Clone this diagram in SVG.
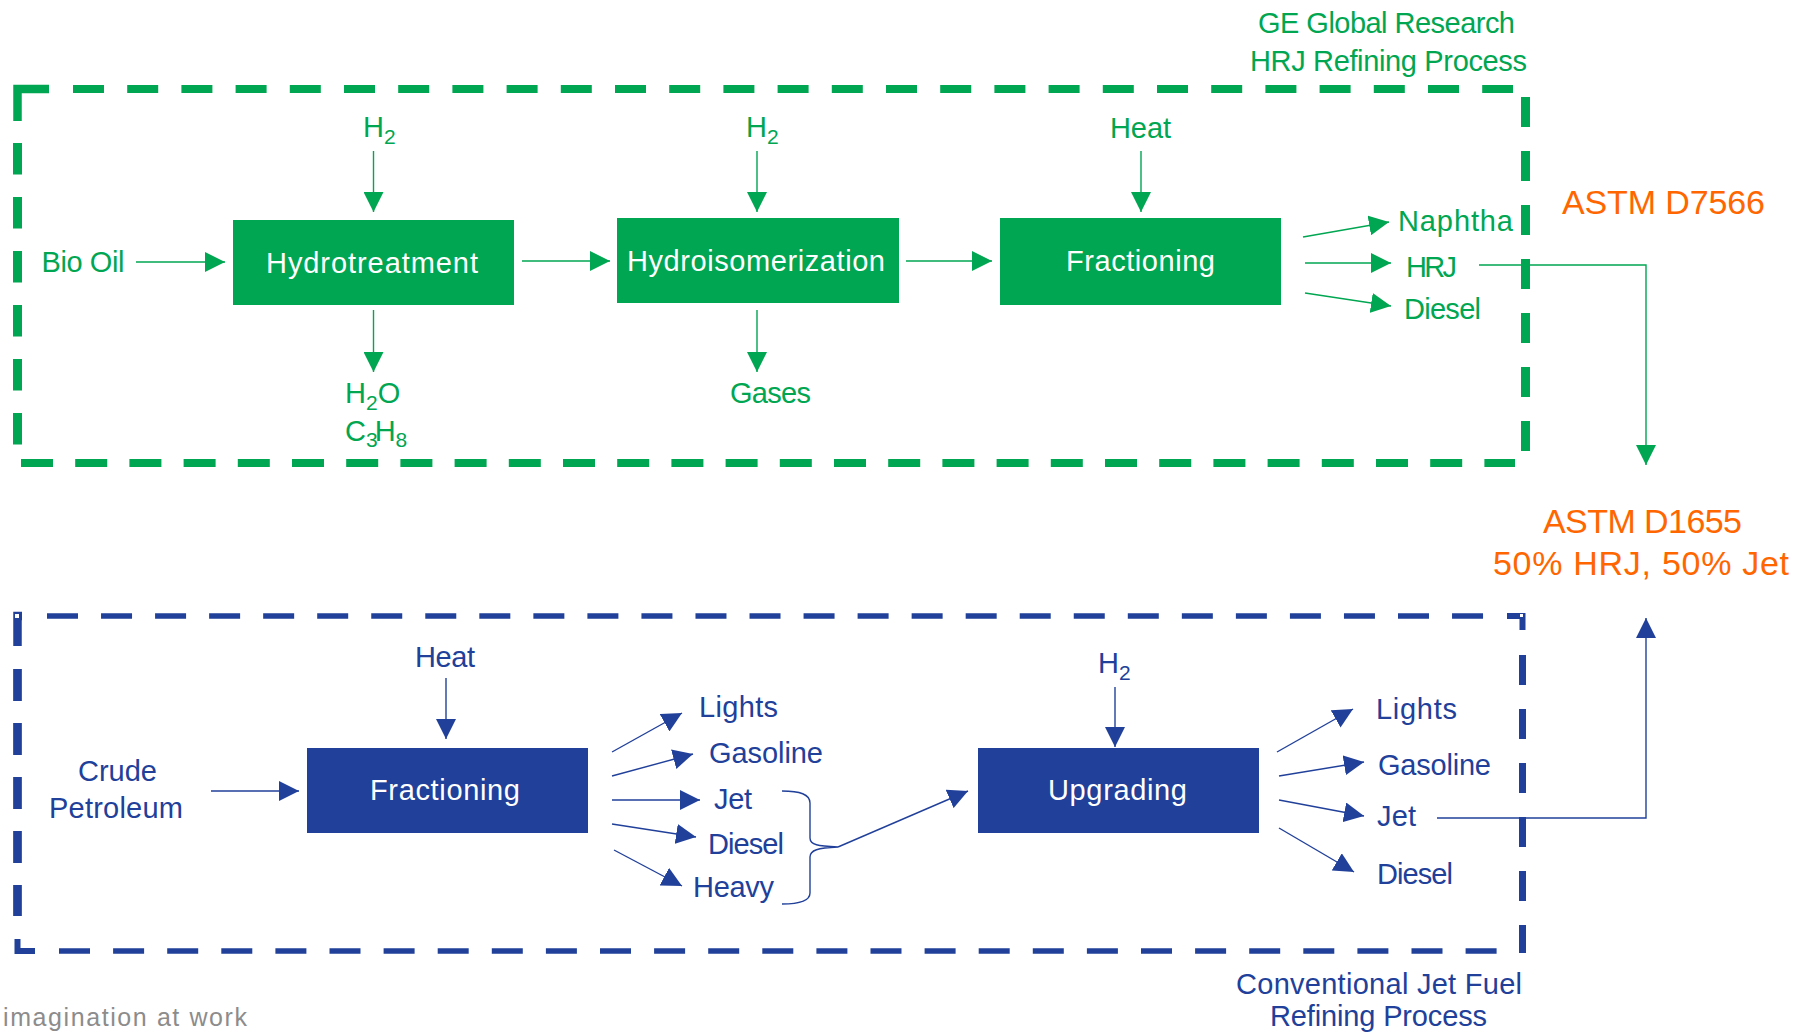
<svg xmlns="http://www.w3.org/2000/svg" width="1809" height="1034" viewBox="0 0 1809 1034">
<style>
text{font-family:"Liberation Sans",Arial,sans-serif;font-size:29px}
.g{fill:#00A651}
.b{fill:#21409A}
.o{fill:#FF6600;font-size:34px}
.w{fill:#fff}
.cg{stroke:#00A651;stroke-width:1.4;fill:none}
.cb{stroke:#21409A;stroke-width:1.4;fill:none}
.dg{stroke:#00A651;fill:none}
.db{stroke:#21409A;fill:none}
.wm{fill:#8c8c8c;font-size:25px}
</style>
<defs>
<marker id="ag" viewBox="0 0 20 20" markerWidth="20" markerHeight="20" refX="20" refY="10" orient="auto" markerUnits="userSpaceOnUse"><path d="M0,0 L20,10 L0,20 z" fill="#00A651"/></marker>
<marker id="ab" viewBox="0 0 20 20" markerWidth="20" markerHeight="20" refX="20" refY="10" orient="auto" markerUnits="userSpaceOnUse"><path d="M0,0 L20,10 L0,20 z" fill="#21409A"/></marker>
</defs>
<rect width="1809" height="1034" fill="#fff"/>

<g id="hrj-frame">
<polyline class="dg" stroke-width="8.5" points="17.5,121 17.5,89 49,89"/>
<line class="dg" stroke-width="8" x1="73" y1="89" x2="1513" y2="89" stroke-dasharray="31 23.2"/>
<line class="dg" stroke-width="9" x1="17.5" y1="143" x2="17.5" y2="446" stroke-dasharray="31.5 22.5"/>
<line class="dg" stroke-width="9" x1="1525.5" y1="97" x2="1525.5" y2="452" stroke-dasharray="30 24"/>
<line class="dg" stroke-width="8" x1="21" y1="463" x2="1515" y2="463" stroke-dasharray="32 22.2"/>
</g>
<g id="conv-frame">
<polyline class="db" stroke-width="8.5" points="17.5,646 17.5,616 22,616"/>
<rect x="15" y="614" width="4" height="4" fill="#fff"/>
<line class="db" stroke-width="5.5" x1="47" y1="616" x2="1485" y2="616" stroke-dasharray="31 23.04"/>
<line class="db" stroke-width="8.7" x1="17.5" y1="669" x2="17.5" y2="916" stroke-dasharray="32 22"/>
<polyline class="db" stroke-width="6" points="17.5,939 17.5,951 35,951"/>
<polyline class="db" stroke-width="6" points="1507,616 1522.5,616 1522.5,630"/>
<rect x="1520" y="614" width="3" height="3" fill="#fff"/>
<line class="db" stroke-width="7" x1="1522.5" y1="655" x2="1522.5" y2="901" stroke-dasharray="30 24"/>
<line class="db" stroke-width="7" x1="1522.5" y1="925" x2="1522.5" y2="953"/>
<line class="db" stroke-width="5.5" x1="59" y1="951" x2="1497" y2="951" stroke-dasharray="31 23.1"/>
</g>

<g id="hrj-title"><text class="g" x="1258" y="33" textLength="257">GE Global Research</text><text class="g" x="1250" y="71" textLength="277">HRJ Refining Process</text></g>
<g id="conv-title"><text class="b" x="1236" y="994" textLength="286">Conventional Jet Fuel</text><text class="b" x="1270" y="1026" textLength="217">Refining Process</text></g>

<g id="bio-oil"><text class="g" x="41.5" y="272" textLength="83">Bio Oil</text></g>
<g id="hydrotreatment"><rect x="233" y="220" width="281" height="85" fill="#00A651"/><text class="w" x="266" y="273" textLength="212">Hydrotreatment</text></g>
<g id="h2-a"><text class="g" x="363" y="137">H<tspan font-size="21" dy="7">2</tspan></text></g>
<g id="h2o-c3h8"><text class="g" x="345" y="403">H<tspan font-size="21" dy="7">2</tspan><tspan dy="-7">O</tspan></text><text class="g" x="345" y="441">C<tspan font-size="21" dy="6">3</tspan><tspan dy="-6" dx="-3">H</tspan><tspan font-size="21" dy="6">8</tspan></text></g>
<g id="hydroisomerization"><rect x="617" y="218" width="282" height="85" fill="#00A651"/><text class="w" x="627" y="271" textLength="258">Hydroisomerization</text></g>
<g id="h2-b"><text class="g" x="746" y="137">H<tspan font-size="21" dy="7">2</tspan></text></g>
<g id="gases"><text class="g" x="730" y="403" textLength="81">Gases</text></g>
<g id="fractioning-hrj"><rect x="1000" y="218" width="281" height="87" fill="#00A651"/><text class="w" x="1066" y="271" textLength="149">Fractioning</text></g>
<g id="heat-a"><text class="g" x="1110" y="138" textLength="61">Heat</text></g>
<g id="naphtha"><text class="g" x="1398" y="231" textLength="115">Naphtha</text></g>
<g id="hrj"><text class="g" x="1406" y="277" textLength="51">HRJ</text></g>
<g id="diesel-a"><text class="g" x="1404" y="319" textLength="77">Diesel</text></g>

<g id="astm-d7566"><text class="o" x="1562" y="214" textLength="203">ASTM D7566</text></g>
<g id="astm-d1655"><text class="o" x="1543" y="533" textLength="199">ASTM D1655</text><text class="o" x="1493" y="575" textLength="296">50% HRJ, 50% Jet</text></g>

<g id="crude"><text class="b" x="78" y="781" textLength="79">Crude</text><text class="b" x="49" y="818" textLength="134">Petroleum</text></g>
<g id="heat-b"><text class="b" x="415" y="667" textLength="60">Heat</text></g>
<g id="fractioning-conv"><rect x="307" y="748" width="281" height="85" fill="#21409A"/><text class="w" x="370" y="800" textLength="150">Fractioning</text></g>
<g id="lights-a"><text class="b" x="699" y="717" textLength="79">Lights</text></g>
<g id="gasoline-a"><text class="b" x="709" y="763" textLength="114">Gasoline</text></g>
<g id="jet-a"><text class="b" x="714" y="809" textLength="38">Jet</text></g>
<g id="diesel-b"><text class="b" x="708" y="854" textLength="76">Diesel</text></g>
<g id="heavy"><text class="b" x="693" y="897" textLength="81">Heavy</text></g>
<g id="upgrading"><rect x="978" y="748" width="281" height="85" fill="#21409A"/><text class="w" x="1048" y="800" textLength="139">Upgrading</text></g>
<g id="h2-c"><text class="b" x="1098" y="673">H<tspan font-size="21" dy="7">2</tspan></text></g>
<g id="lights-b"><text class="b" x="1376" y="719" textLength="81">Lights</text></g>
<g id="gasoline-b"><text class="b" x="1378" y="775" textLength="113">Gasoline</text></g>
<g id="jet-b"><text class="b" x="1377" y="826" textLength="39">Jet</text></g>
<g id="diesel-c"><text class="b" x="1377" y="884" textLength="76">Diesel</text></g>

<g id="watermark"><text class="wm" x="3" y="1026" textLength="244">imagination at work</text></g>

<g id="connectors">
<line class="cg" x1="136" y1="262" x2="225" y2="262" marker-end="url(#ag)"/>
<line class="cg" x1="373.5" y1="151" x2="373.5" y2="212" marker-end="url(#ag)"/>
<line class="cg" x1="373.5" y1="310" x2="373.5" y2="372" marker-end="url(#ag)"/>
<line class="cg" x1="522" y1="261" x2="610" y2="261" marker-end="url(#ag)"/>
<line class="cg" x1="757" y1="151" x2="757" y2="212" marker-end="url(#ag)"/>
<line class="cg" x1="757" y1="310" x2="757" y2="372" marker-end="url(#ag)"/>
<line class="cg" x1="906" y1="261" x2="992" y2="261" marker-end="url(#ag)"/>
<line class="cg" x1="1141" y1="151" x2="1141" y2="212" marker-end="url(#ag)"/>
<line class="cg" x1="1303" y1="237" x2="1389" y2="222" marker-end="url(#ag)"/>
<line class="cg" x1="1305" y1="263" x2="1391" y2="263" marker-end="url(#ag)"/>
<line class="cg" x1="1305" y1="293" x2="1391" y2="306" marker-end="url(#ag)"/>
<polyline class="cg" points="1479,265 1646,265 1646,465" marker-end="url(#ag)"/>

<line class="cb" x1="211" y1="791" x2="299" y2="791" marker-end="url(#ab)"/>
<line class="cb" x1="446" y1="678" x2="446" y2="739" marker-end="url(#ab)"/>
<line class="cb" x1="612" y1="752" x2="682" y2="713" marker-end="url(#ab)"/>
<line class="cb" x1="612" y1="776" x2="693" y2="754" marker-end="url(#ab)"/>
<line class="cb" x1="612" y1="800" x2="700" y2="800" marker-end="url(#ab)"/>
<line class="cb" x1="612" y1="824" x2="696" y2="837" marker-end="url(#ab)"/>
<line class="cb" x1="614" y1="850" x2="682" y2="886" marker-end="url(#ab)"/>
<path class="cb" d="M782,791 C800,791 810,794 810,803 L810,838 C810,845 818,846 838,847 C818,848 810,850 810,857 L810,893 C810,901 800,904 782,904"/>
<line class="cb" x1="838" y1="847" x2="968" y2="791" marker-end="url(#ab)"/>
<line class="cb" x1="1115" y1="687" x2="1115" y2="747" marker-end="url(#ab)"/>
<line class="cb" x1="1277" y1="752" x2="1353" y2="709" marker-end="url(#ab)"/>
<line class="cb" x1="1279" y1="776" x2="1364" y2="762" marker-end="url(#ab)"/>
<line class="cb" x1="1279" y1="800" x2="1364" y2="816" marker-end="url(#ab)"/>
<line class="cb" x1="1279" y1="828" x2="1354" y2="872" marker-end="url(#ab)"/>
<polyline class="cb" points="1437,818 1646,818 1646,618" marker-end="url(#ab)"/>
</g>
</svg>
